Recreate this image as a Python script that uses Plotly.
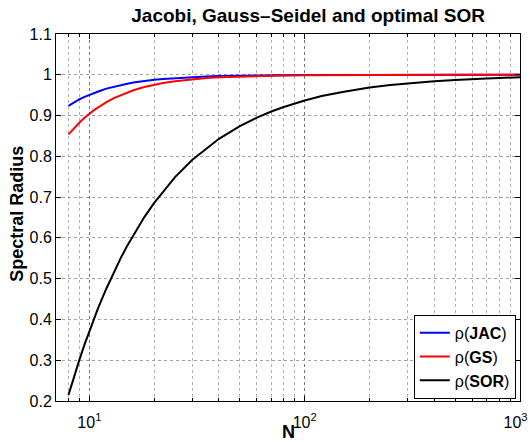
import plotly.graph_objects as go

N = [8, 8.5, 9, 9.5, 10, 10.5, 11, 12, 13, 14, 15, 16, 18, 20, 22, 25, 30, 35, 40,
     50, 60, 70, 80, 100, 120, 150, 200, 250, 300, 400, 500, 600, 700, 800, 1000]
rho_jac = [0.924, 0.9325, 0.940, 0.9458, 0.951, 0.9556, 0.959, 0.966, 0.9709, 0.975,
           0.9781, 0.981, 0.985, 0.988, 0.9898, 0.992, 0.995, 0.996, 0.997,
           0.998, 0.9986, 0.999, 0.9992, 0.9995, 0.9997, 0.9998, 0.9999, 0.9999,
           0.99995, 0.99997, 0.99998, 0.99999, 0.99999, 0.99999, 1.0]
rho_gs = [0.854, 0.8696, 0.883, 0.8945, 0.905, 0.9132, 0.920, 0.933, 0.9426, 0.950,
          0.9567, 0.962, 0.970, 0.976, 0.9797, 0.984, 0.989, 0.992, 0.994,
          0.996, 0.997, 0.998, 0.9985, 0.999, 0.9993, 0.9996, 0.9998, 0.9998,
          0.9999, 0.99994, 0.99996, 0.99997, 0.99998, 0.99998, 0.99999]
rho_sor = [0.215, 0.261, 0.302, 0.339, 0.372, 0.402, 0.429, 0.476, 0.517, 0.551,
           0.581, 0.607, 0.651, 0.686, 0.714, 0.749, 0.791, 0.820, 0.843,
           0.874, 0.895, 0.910, 0.921, 0.937, 0.948, 0.958, 0.969, 0.975,
           0.979, 0.984, 0.987, 0.990, 0.991, 0.992, 0.994]

y_ticks = [0.2, 0.3, 0.4, 0.5, 0.6, 0.7, 0.8, 0.9, 1.0, 1.1]
y_labels = ["0.2", "0.3", "0.4", "0.5", "0.6", "0.7", "0.8", "0.9", "1", "1.1"]
x_ticks = [10, 100, 1000]
x_labels = ["10<sup>1</sup>", "10<sup>2</sup>", "10<sup>3</sup>&nbsp;&nbsp;"]

FONT = "Liberation Sans, Arial, sans-serif"

fig = go.Figure()
fig.add_trace(go.Scatter(x=N, y=rho_jac, mode="lines", name="ρ(<b>JAC</b>)",
                         line=dict(color="#0000ff", width=2)))
fig.add_trace(go.Scatter(x=N, y=rho_gs, mode="lines", name="ρ(<b>GS</b>)",
                         line=dict(color="#ff0000", width=2)))
fig.add_trace(go.Scatter(x=N, y=rho_sor, mode="lines", name="ρ(<b>SOR</b>)",
                         line=dict(color="#000000", width=2)))

fig.update_layout(
    width=530, height=442,
    margin=dict(l=56, r=10, t=34, b=41, autoexpand=False),
    paper_bgcolor="white", plot_bgcolor="white",
    font=dict(family=FONT, color="black"),
    title=dict(text="<b>Jacobi, Gauss–Seidel and optimal SOR</b>",
               x=(56 + 232) / 530, xref="paper", xanchor="center",
               y=1 - 15 / 442, yref="container", yanchor="middle",
               font=dict(size=19, family=FONT)),
    showlegend=True,
    legend=dict(x=0.991, xanchor="right", y=0.006, yanchor="bottom",
                bgcolor="white", bordercolor="black", borderwidth=1,
                font=dict(size=16, family=FONT), tracegroupgap=0,
                itemwidth=30),
    annotations=[
        dict(text="<b>N</b>", xref="paper", yref="paper", x=0.5, y=-31 / 366,
             xanchor="center", yanchor="middle", showarrow=False,
             font=dict(size=18, family=FONT)),
        dict(text="<b>Spectral Radius</b>", xref="paper", yref="paper",
             x=-39 / 464, y=0.51, textangle=-90,
             xanchor="center", yanchor="middle", showarrow=False,
             font=dict(size=18, family=FONT)),
    ],
)
fig.update_xaxes(
    type="log", range=[0.845, 3.0003], automargin=False,
    tickvals=x_ticks, ticktext=x_labels,
    tickfont=dict(size=16, family=FONT),
    ticks="inside", ticklen=5, tickcolor="black",
    ticklabelstandoff=7, ticklabeloverflow="allow",
    showline=True, linecolor="black", linewidth=1, mirror="allticks",
    showgrid=True, gridcolor="#777777", griddash="dot", gridwidth=1,
    minor=dict(tickvals=[8, 9, 20, 30, 40, 50, 60, 70, 80, 90,
                         200, 300, 400, 500, 600, 700, 800, 900],
               ticks="inside", ticklen=3, tickcolor="black",
               showgrid=True, gridcolor="#b0b0b0", griddash="dot", gridwidth=1),
    zeroline=False,
)
fig.update_yaxes(
    range=[0.2, 1.1], automargin=False,
    tickvals=y_ticks, ticktext=y_labels,
    tickfont=dict(size=16, family=FONT),
    ticks="inside", ticklen=5, tickcolor="black",
    showline=True, linecolor="black", linewidth=1, mirror="allticks",
    showgrid=True, gridcolor="#a0a0a0", griddash="dot", gridwidth=1,
    zeroline=False,
)
fig.update_xaxes(tickprefix="<b>", ticksuffix="</b>")
fig.update_yaxes(tickprefix="<b>", ticksuffix="</b>")

fig.write_html("out.html")
